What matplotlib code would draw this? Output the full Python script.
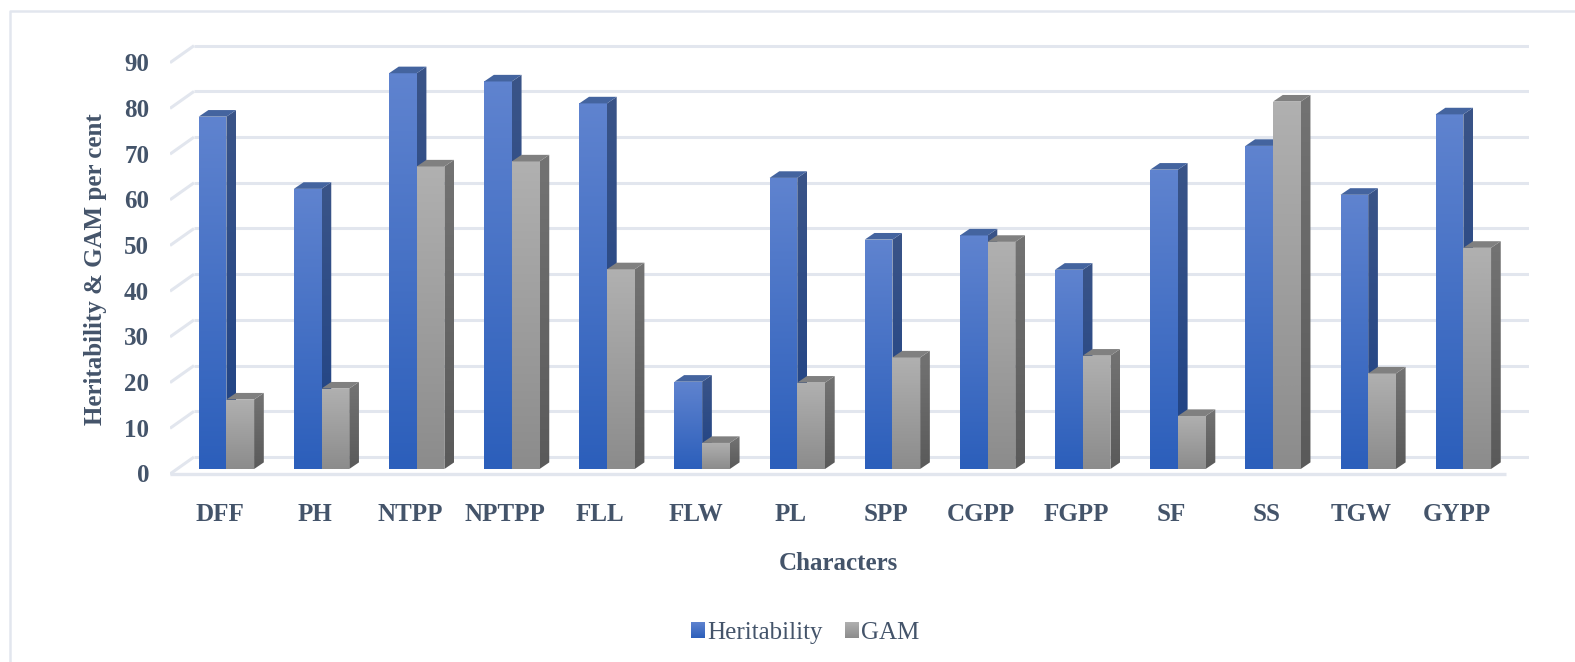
import numpy as np
import matplotlib
matplotlib.use('Agg')
import matplotlib.pyplot as plt
from matplotlib.colors import LinearSegmentedColormap
from matplotlib.image import BboxImage
from matplotlib.legend_handler import HandlerBase
from matplotlib.lines import Line2D
from matplotlib.patches import Patch, Polygon
from matplotlib.transforms import Bbox, ScaledTranslation, TransformedBbox

characters = ['DFF', 'PH', 'NTPP', 'NPTPP', 'FLL', 'FLW', 'PL', 'SPP',
              'CGPP', 'FGPP', 'SF', 'SS', 'TGW', 'GYPP']
heritability = [77.1, 61.3, 86.6, 84.8, 80.0, 19.1, 63.7, 50.2, 51.1, 43.6, 65.5, 70.7, 60.0, 77.6]
gam = [15.2, 17.6, 66.2, 67.3, 43.7, 5.7, 18.9, 24.4, 49.7, 24.8, 11.6, 80.4, 20.9, 48.4]
y_ticks = [0, 10, 20, 30, 40, 50, 60, 70, 80, 90]

TEXT = '#44546A'
GRID = '#E2E6EE'
W, H = 1575, 662

# pixel scale of the chart, one category and one y unit
PX_X = 95.15
PX_Y = 4.57
X0 = 219.7
Y0 = 469.0
AX_L, AX_R, AX_T, AX_B = 170, 1529, 30, 480

plt.rcParams['font.family'] = ['Liberation Serif']

fig = plt.figure(figsize=(W / 100, H / 100), dpi=100)
ax = fig.add_axes([AX_L / W, 1 - AX_B / H, (AX_R - AX_L) / W, (AX_B - AX_T) / H])
ax.set_xlim((AX_L - X0) / PX_X, (AX_R - X0) / PX_X)
ax.set_ylim((Y0 - AX_B) / PX_Y, (Y0 - AX_T) / PX_Y)
xlim, ylim = ax.get_xlim(), ax.get_ylim()

blue_front = LinearSegmentedColormap.from_list('bf', ['#2C5FBB', '#5F83CF'])
blue_side = LinearSegmentedColormap.from_list('bs', ['#1E4285', '#3A5488'])
gray_front = LinearSegmentedColormap.from_list('gf', ['#8C8C8C', '#B0B0B0'])
gray_side = LinearSegmentedColormap.from_list('gs', ['#5A5A5A', '#737373'])
ramp = np.linspace(0, 1, 64).reshape(-1, 1)


def shade(pts, cmap, z):
    # gradient image cut to the polygon
    pts = np.array(pts)
    im = ax.imshow(ramp, cmap=cmap, origin='lower', aspect='auto', zorder=z, interpolation='bilinear',
                   extent=(pts[:, 0].min(), pts[:, 0].max(), pts[:, 1].min(), pts[:, 1].max()))
    im.set_clip_path(Polygon(pts, transform=ax.transData))


def bar3d(x, val, cmap_front, cmap_side, cap, z):
    w = 27.7 / PX_X
    dx = 9.7 / PX_X
    dy = 6.6 / PX_Y
    shade([(x, 0), (x + w, 0), (x + w, val), (x, val)], cmap_front, z)
    shade([(x + w, 0), (x + w + dx, dy), (x + w + dx, val + dy), (x + w, val)], cmap_side, z)
    ax.add_patch(Polygon([(x, val), (x + w, val), (x + w + dx, val + dy), (x + dx, val + dy)],
                         facecolor=cap, edgecolor='none', zorder=z))


# back wall lines and the slanted bits on the side wall
back_dx = 24 / PX_X
back_dy = 12 / PX_Y
front_dy = -5 / PX_Y
for v in y_ticks:
    ax.plot([xlim[0] + back_dx, xlim[1]], [v + back_dy, v + back_dy], color=GRID, lw=2.2, zorder=1,
            solid_capstyle='butt')
    ax.plot([xlim[0], xlim[0] + back_dx], [v + front_dy, v + back_dy], color=GRID, lw=2.2, zorder=1,
            solid_capstyle='butt')
ax.plot([xlim[0], (1506 - X0) / PX_X], [front_dy, front_dy], color=GRID, lw=2.4, zorder=1,
        solid_capstyle='butt')

for i in range(len(characters)):
    left = i - 21 / PX_X
    bar3d(left, heritability[i], blue_front, blue_side, '#44649F', 2 + i * 0.01)
    bar3d(left + 27.7 / PX_X, gam[i], gray_front, gray_side, '#808080', 3 + i * 0.01)

ax.set_xlim(xlim)
ax.set_ylim(ylim)

for s in ax.spines.values():
    s.set_visible(False)
ax.patch.set_visible(False)

ax.set_xticks(range(len(characters)))
ax.set_xticklabels(characters, fontsize=18, fontweight='bold', color=TEXT)
ax.set_yticks(y_ticks)
ax.set_yticklabels([str(v) for v in y_ticks], fontsize=18, fontweight='bold', color=TEXT)
ax.tick_params(axis='x', length=0, pad=16.5)
ax.tick_params(axis='y', length=0, pad=15)
# y labels sit on the front plane, a bit lower than the bars
shift = ScaledTranslation(0, -4.5 / 100, fig.dpi_scale_trans)
for lab in ax.get_yticklabels():
    lab.set_transform(lab.get_transform() + shift)

ax.set_ylabel('Heritability & GAM per cent', fontsize=18, fontweight='bold', color=TEXT)
ax.yaxis.set_label_coords((107 - AX_L) / (AX_R - AX_L), (AX_B - 269) / (AX_B - AX_T))
ax.set_xlabel('Characters', fontsize=18, fontweight='bold', color=TEXT)
ax.xaxis.set_label_coords((838 - AX_L) / (AX_R - AX_L), (AX_B - 552) / (AX_B - AX_T))


class GradientSquare(HandlerBase):
    def __init__(self, cmap):
        super().__init__()
        self.cmap = cmap

    def create_artists(self, legend, orig_handle, xdescent, ydescent, width, height, fontsize, trans):
        box = TransformedBbox(Bbox([[-xdescent, -ydescent], [width - xdescent, height - ydescent]]), trans)
        im = BboxImage(box, cmap=self.cmap, origin='lower', interpolation='bilinear')
        im.set_data(ramp)
        return [im]


h1 = Patch(color='#3F6DC4')
h2 = Patch(color='#A0A0A0')
leg = fig.legend([h1, h2], ['Heritability', 'GAM'], ncol=2, frameon=False, fontsize=18,
                 labelcolor=TEXT, loc='center', bbox_to_anchor=(805 / W, 1 - 633 / H),
                 handlelength=0.56, handleheight=0.56, handletextpad=0.08, columnspacing=0.9,
                 handler_map={h1: GradientSquare(blue_front), h2: GradientSquare(gray_front)})

# outer chart frame, only left and top are in the crop
fig.add_artist(Line2D([9.5 / W, 9.5 / W, 1], [0, 1 - 11 / H, 1 - 11 / H], color=GRID, lw=1.8))

fig.savefig('out.png', dpi=100)
